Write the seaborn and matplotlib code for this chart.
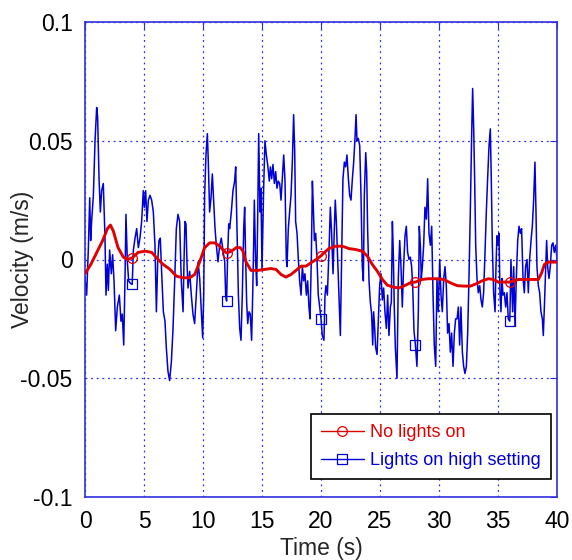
import matplotlib
matplotlib.use("Agg")
import matplotlib.pyplot as plt
import numpy as np
import pandas as pd
import seaborn as sns

# Data
t_blue = [0.00, 0.14, 0.28, 0.40, 0.48, 0.56, 0.71, 0.85, 0.99, 1.07, 1.19, 1.30, 1.41, 1.55, 1.69, 1.78, 1.89, 1.98,
          2.09, 2.23, 2.34, 2.46, 2.60, 2.74, 2.91, 3.05, 3.16, 3.28, 3.39, 3.47, 3.59, 3.70, 3.84, 4.00, 4.10, 4.24,
          4.38, 4.52, 4.66, 4.80, 4.94, 5.03, 5.14, 5.25, 5.37, 5.51, 5.65, 5.79, 5.93, 6.05, 6.16, 6.27, 6.38, 6.50,
          6.64, 6.78, 6.89, 7.03, 7.17, 7.32, 7.46, 7.60, 7.74, 7.88, 8.02, 8.16, 8.31, 8.39, 8.47, 8.56, 8.64, 8.73,
          8.87, 9.01, 9.15, 9.29, 9.43, 9.58, 9.72, 9.86, 9.97, 10.06, 10.14, 10.25, 10.37, 10.45, 10.56, 10.68, 10.79,
          10.90, 11.02, 11.13, 11.27, 11.41, 11.55, 11.69, 11.84, 11.92, 12.00, 12.09, 12.18, 12.26, 12.40, 12.54,
          12.68, 12.77, 12.88, 13.00, 13.11, 13.22, 13.33, 13.45, 13.53, 13.62, 13.70, 13.79, 13.90, 14.01, 14.12,
          14.21, 14.29, 14.35, 14.46, 14.55, 14.63, 14.72, 14.83, 14.91, 15.00, 15.14, 15.25, 15.37, 15.48, 15.62,
          15.71, 15.82, 15.93, 16.05, 16.16, 16.27, 16.38, 16.50, 16.61, 16.72, 16.84, 16.95, 17.06, 17.12, 17.23,
          17.34, 17.46, 17.57, 17.68, 17.77, 17.85, 17.97, 18.08, 18.19, 18.31, 18.42, 18.53, 18.64, 18.76, 18.87,
          18.98, 19.07, 19.18, 19.27, 19.35, 19.44, 19.55, 19.66, 19.77, 19.89, 20.00, 20.11, 20.25, 20.34, 20.42,
          20.54, 20.68, 20.79, 20.90, 21.02, 21.13, 21.21, 21.30, 21.41, 21.52, 21.64, 21.75, 21.86, 21.98, 22.09,
          22.20, 22.32, 22.43, 22.54, 22.66, 22.77, 22.88, 22.97, 23.05, 23.16, 23.28, 23.39, 23.50, 23.59, 23.67,
          23.79, 23.87, 23.95, 24.07, 24.18, 24.29, 24.38, 24.46, 24.55, 24.63, 24.75, 24.86, 24.97, 25.08, 25.20,
          25.31, 25.42, 25.54, 25.65, 25.76, 25.88, 25.96, 26.05, 26.13, 26.21, 26.30, 26.44, 26.55, 26.67, 26.78,
          26.89, 27.00, 27.12, 27.23, 27.34, 27.46, 27.57, 27.68, 27.77, 27.88, 28.00, 28.13, 28.25, 28.33, 28.42,
          28.50, 28.59, 28.70, 28.81, 28.93, 29.04, 29.15, 29.27, 29.38, 29.49, 29.60, 29.72, 29.83, 29.94, 30.06,
          30.17, 30.28, 30.40, 30.51, 30.62, 30.73, 30.85, 30.96, 31.07, 31.19, 31.30, 31.41, 31.53, 31.64, 31.75,
          31.86, 31.98, 32.09, 32.20, 32.32, 32.43, 32.54, 32.66, 32.77, 32.85, 32.94, 33.02, 33.11, 33.22, 33.33,
          33.45, 33.56, 33.67, 33.78, 33.90, 34.01, 34.12, 34.24, 34.35, 34.43, 34.52, 34.63, 34.75, 34.83, 34.91,
          35.00, 35.08, 35.17, 35.25, 35.34, 35.42, 35.54, 35.65, 35.76, 35.87, 36.00, 36.10, 36.24, 36.33, 36.44,
          36.55, 36.67, 36.78, 36.89, 37.00, 37.12, 37.23, 37.34, 37.46, 37.57, 37.68, 37.80, 37.91, 38.02, 38.13,
          38.22, 38.30, 38.42, 38.53, 38.64, 38.76, 38.84, 38.93, 39.04, 39.12, 39.21, 39.32, 39.43, 39.55, 39.66,
          39.77, 39.89, 40.00]
v_blue = [-0.008, -0.015, 0.004, 0.026, 0.008, 0.016, 0.027, 0.050, 0.064, 0.060, 0.034, 0.020, 0.029, 0.032, 0.010,
          -0.015, -0.002, -0.013, 0.004, -0.006, 0.002, -0.009, -0.030, -0.020, -0.015, -0.026, -0.023, -0.036,
          -0.008, 0.019, -0.001, -0.009, -0.010, -0.0105, 0.004, 0.009, 0.013, 0.005, 0.009, 0.016, 0.029, 0.022,
          0.029, 0.016, 0.025, 0.027, 0.025, 0.020, 0.006, -0.022, -0.001, 0.008, 0.009, -0.006, -0.022, -0.026,
          -0.037, -0.047, -0.051, -0.043, -0.029, -0.009, 0.013, 0.019, 0.016, -0.009, -0.022, -0.001, 0.016, 0.015,
          -0.001, -0.012, -0.005, -0.015, -0.023, -0.027, -0.015, -0.001, -0.008, -0.022, -0.033, -0.015, 0.027,
          0.044, 0.053, 0.041, 0.020, 0.026, 0.036, 0.025, 0.013, 0.006, -0.001, 0.006, 0.009, 0.004, -0.001, -0.015,
          -0.0175, 0.002, 0.015, 0.013, 0.020, 0.029, 0.033, 0.039, 0.013, -0.015, -0.029, -0.034, -0.015, 0.013,
          0.022, -0.001, -0.018, -0.027, -0.022, -0.023, -0.034, -0.015, 0.006, 0.025, -0.001, -0.011, 0.016, 0.053,
          0.020, 0.030, -0.004, 0.030, 0.050, 0.044, 0.040, 0.033, 0.039, 0.034, 0.040, 0.032, 0.037, 0.030, 0.033,
          0.032, 0.025, 0.034, 0.044, 0.033, 0.000, -0.003, 0.013, 0.020, 0.027, 0.041, 0.061, 0.046, 0.016, 0.011,
          0.000, -0.009, -0.015, -0.003, -0.009, -0.006, -0.015, -0.009, -0.020, -0.025, 0.000, 0.033, 0.022, 0.008,
          0.011, 0.000, -0.015, -0.020, -0.025, -0.032, -0.034, -0.015, -0.011, -0.015, 0.004, 0.022, 0.011, -0.006,
          0.013, 0.025, 0.016, 0.000, -0.015, -0.032, 0.000, 0.034, 0.041, 0.039, 0.044, 0.034, 0.027, 0.025, 0.034,
          0.041, 0.051, 0.061, 0.050, 0.051, 0.048, 0.027, -0.003, -0.009, 0.027, 0.045, 0.037, 0.013, -0.009,
          -0.018, -0.023, -0.036, -0.022, -0.029, -0.037, -0.040, -0.025, -0.011, -0.006, -0.017, -0.012, -0.022,
          -0.029, -0.015, -0.032, -0.020, -0.018, 0.016, 0.002, -0.020, -0.037, -0.050, -0.008, 0.008, -0.003,
          -0.020, -0.003, 0.010, 0.014, 0.003, 0.000, 0.001, -0.003, -0.011, -0.030, -0.036, -0.045, -0.022, 0.014,
          0.006, -0.008, -0.003, 0.006, 0.022, 0.017, 0.034, 0.011, 0.006, 0.014, -0.014, -0.036, -0.045, -0.008,
          -0.022, 0.000, -0.015, -0.022, -0.008, -0.003, -0.011, -0.031, -0.027, -0.039, -0.031, -0.045, -0.031,
          -0.025, -0.025, -0.020, -0.036, -0.020, -0.039, -0.045, -0.048, -0.045, -0.031, -0.008, 0.022, 0.053,
          0.072, 0.055, 0.034, 0.006, -0.008, -0.014, -0.011, -0.017, -0.020, -0.014, 0.003, 0.020, 0.034, 0.048,
          0.055, 0.034, 0.006, -0.014, -0.022, -0.003, 0.010, 0.006, 0.011, -0.014, -0.022, -0.008, -0.015, -0.014,
          -0.020, -0.014, -0.025, -0.026, 0.000, -0.022, -0.003, -0.028, -0.008, 0.008, 0.014, 0.011, 0.013, -0.008,
          -0.014, -0.003, 0.000, -0.014, 0.000, 0.008, 0.014, 0.025, 0.041, 0.020, -0.003, -0.011, -0.014, -0.022,
          -0.025, -0.032, -0.020, -0.003, 0.008, -0.003, -0.008, -0.003, 0.006, 0.007, 0.003, 0.006, 0.000]

t_red = [0.0, 0.5, 1.0, 1.5, 1.9, 2.15, 2.4, 2.8, 3.25, 3.6, 4.0, 4.5, 5.1, 5.65, 6.07, 6.6, 7.17, 7.74, 8.3, 8.87,
         9.3, 9.72, 10.14, 10.56, 11.0, 11.41, 11.7, 12.0, 12.4, 12.83, 13.16, 13.39, 13.64, 14.07, 14.63, 15.2,
         15.76, 16.19, 16.61, 17.03, 17.46, 17.88, 18.3, 18.73, 19.15, 19.58, 20.0, 20.25, 20.68, 21.24, 21.81,
         22.37, 22.94, 23.5, 23.93, 24.35, 24.77, 25.2, 25.62, 26.19, 26.61, 27.0, 27.57, 28.0, 28.56, 29.1, 29.83,
         30.4, 30.96, 31.53, 32.09, 32.66, 33.22, 33.6, 34.18, 34.6, 35.03, 35.6, 36.0, 36.72, 37.29, 37.85, 38.42,
         38.7, 38.93, 39.26, 40.0]
v_red = [-0.006, -0.002, 0.003, 0.008, 0.013, 0.0145, 0.012, 0.005, 0.001, 0.000, 0.0007, 0.003, 0.0035, 0.003,
         0.0007, -0.002, -0.004, -0.007, -0.0077, -0.0077, -0.0063, -0.001, 0.005, 0.007, 0.007, 0.0056, 0.004,
         0.0028, 0.0035, 0.005, 0.005, 0.0035, -0.001, -0.0046, -0.0046, -0.0042, -0.0038, -0.0042, -0.0063,
         -0.0074, -0.0063, -0.0046, -0.0028, -0.0028, -0.0014, 0.0, 0.0015, 0.0028, 0.0046, 0.0056, 0.0056, 0.0046,
         0.0042, 0.0035, 0.0014, -0.0021, -0.0049, -0.0084, -0.0108, -0.0117, -0.012, -0.0112, -0.0098, -0.0095,
         -0.0084, -0.0081, -0.0081, -0.0084, -0.0098, -0.011, -0.0112, -0.0112, -0.0101, -0.0091, -0.0081, -0.0084,
         -0.0095, -0.0095, -0.0095, -0.0084, -0.0084, -0.0084, -0.0084, -0.0056, -0.0021, -0.0011, -0.0011]

marker_times = [4, 12, 20, 28, 36]
xticks = [0, 5, 10, 15, 20, 25, 30, 35, 40]
yticks = [-0.1, -0.05, 0, 0.05, 0.1]
ytick_labels = ["-0.1", "-0.05", "0", "0.05", "0.1"]

sns.set_style("white")
plt.rcParams["font.family"] = ["Liberation Sans", "DejaVu Sans"]

df_red = pd.DataFrame({"t": t_red, "v": v_red})
df_blue = pd.DataFrame({"t": t_blue, "v": v_blue})
red_marks = list(np.where(np.isin(df_red["t"], marker_times))[0])
blue_marks = list(np.where(np.isin(df_blue["t"], marker_times))[0])

fig = plt.figure(figsize=(5.72, 5.60), dpi=100)
ax = fig.add_axes([85 / 572, 63 / 560, 472 / 572, 475 / 560])

grid_blue = "#3030e0"
red = "#e00000"
blue = "#0000d8"
sns.lineplot(data=df_red, x="t", y="v", ax=ax, sort=False, estimator=None,
             color=red, linewidth=2.1, marker="o", markevery=red_marks, markersize=7,
             markerfacecolor="none", markeredgecolor=red, markeredgewidth=0.9,
             label="No lights on", zorder=3)
sns.lineplot(data=df_blue, x="t", y="v", ax=ax, sort=False, estimator=None,
             color=blue, linewidth=1.1, marker="s", markevery=blue_marks, markersize=7,
             markerfacecolor="none", markeredgecolor=blue, markeredgewidth=0.9,
             label="Lights on high setting", zorder=2)

ax.set_xlim(0, 40)
ax.set_ylim(-0.1, 0.1)
ax.set_xticks(xticks)
ax.set_yticks(yticks, labels=ytick_labels)
ax.grid(True, color=grid_blue, linestyle=(0, (1.5, 3)), linewidth=0.9)
for s in ax.spines.values():
    s.set_color(grid_blue)
    s.set_linewidth(1.2)
ax.tick_params(direction="in", length=5, color=grid_blue, labelsize=16.5, labelcolor="black",
               top=True, right=True, pad=9)

ax.set_xlabel("Time (s)", fontsize=16.5, labelpad=3)
ax.set_ylabel("Velocity (m/s)", fontsize=16.5)
ax.yaxis.set_label_coords(-0.108, 0.5)

leg = ax.legend(loc="lower right", bbox_to_anchor=(0.987, 0.038), borderaxespad=0,
                fontsize=13, frameon=True, fancybox=False, framealpha=1, edgecolor="black",
                handlelength=2.4, handletextpad=0.35, borderpad=0.55, labelspacing=0.62)
leg.get_frame().set_linewidth(1.2)
for h in leg.legend_handles:
    h.set_linewidth(1.0)
for txt, col in zip(leg.get_texts(), [red, blue]):
    txt.set_color(col)

fig.savefig("out.png", dpi=100)
